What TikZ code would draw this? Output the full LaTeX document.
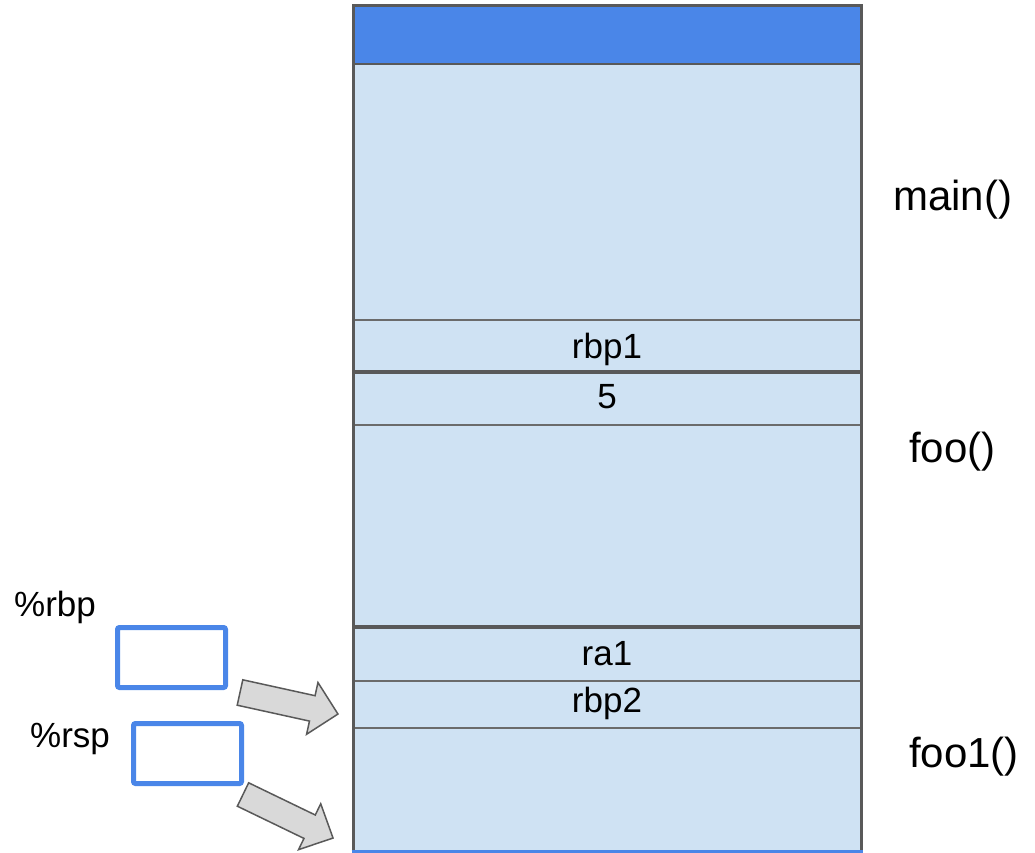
\documentclass[tikz,border=0pt]{standalone}
\usepackage{fontspec}
\setmainfont{Liberation Sans}
\definecolor{cellfill}{HTML}{CFE2F3}
\definecolor{topblue}{HTML}{4A86E8}
\definecolor{edgegray}{HTML}{595959}
\definecolor{rowgray}{HTML}{6B6B6B}
\definecolor{arrowfill}{HTML}{D9D9D9}
\tikzset{
  rowline/.style={draw=rowgray, line width=1.5pt},
  framebar/.style={draw=edgegray, line width=4pt},
  celltext/.style={anchor=base, inner sep=0pt, font=\fontsize{35}{42}\selectfont},
  frametext/.style={anchor=base west, inner sep=0pt, font=\fontsize{42}{50}\selectfont},
  regtext/.style={anchor=base west, inner sep=0pt, font=\fontsize{35}{42}\selectfont},
  regbox/.style={draw=topblue, line width=5pt, rounded corners=2pt, minimum width=108pt, minimum height=60pt, inner sep=0pt},
  blockarrow/.style={draw=edgegray, fill=arrowfill, line width=1.5pt, line join=miter}
}
\begin{document}
\begin{tikzpicture}[x=1pt,y=-1pt]
\useasboundingbox (0,0) rectangle (1035,853);
% stack
\fill[cellfill] (353,64) rectangle (861,851);
\fill[topblue] (353,6) rectangle (861,64);
\draw[rowline] (353,320) -- (861,320);
\draw[framebar] (353,372) -- (861,372);
\draw[rowline] (353,425) -- (861,425);
\draw[framebar] (353,627) -- (861,627);
\draw[rowline] (353,681) -- (861,681);
\draw[rowline] (353,728) -- (861,728);
\draw[draw=edgegray, line width=2pt] (353,64) -- (861,64);
\draw[draw=edgegray, line width=3pt] (353,851) -- (353,6) -- (861,6) -- (861,851);
\draw[draw=topblue, line width=3pt] (351.5,851) -- (862.5,851);
% cell texts
\node[celltext] (rbp1) at (607,358) {rbp1};
\node[celltext] (five) at (607,408) {5};
\node[celltext] (ra1) at (607,665) {ra1};
\node[celltext] (rbp2) at (607,712) {rbp2};
% frame labels
\node[frametext] (main) at (893,210) {main()};
\node[frametext] (foo) at (909,462) {foo()};
\node[frametext] (fooone) at (909,767) {foo1()};
% registers
\node[regtext] (rbplabel) at (14,616) {\%rbp};
\node[regtext] (rsplabel) at (30,747) {\%rsp};
\node[regbox] (rbpbox) at (171.5,657.5) {};
\node[regbox] (rspbox) at (187.5,753.5) {};
% block arrows
\begin{scope}[shift={(240,692.5)}, rotate=-12.4]
\draw[blockarrow] (0,-13) -- (74,-13) -- (74,-26.5) -- (100.3,0) -- (74,26.5) -- (74,13) -- (0,13) -- cycle;
\end{scope}
\begin{scope}[shift={(243,794.5)}, rotate=-25.8]
\draw[blockarrow] (0,-13) -- (74,-13) -- (74,-25.5) -- (100,0) -- (74,25.5) -- (74,13) -- (0,13) -- cycle;
\end{scope}
\end{tikzpicture}
\end{document}
